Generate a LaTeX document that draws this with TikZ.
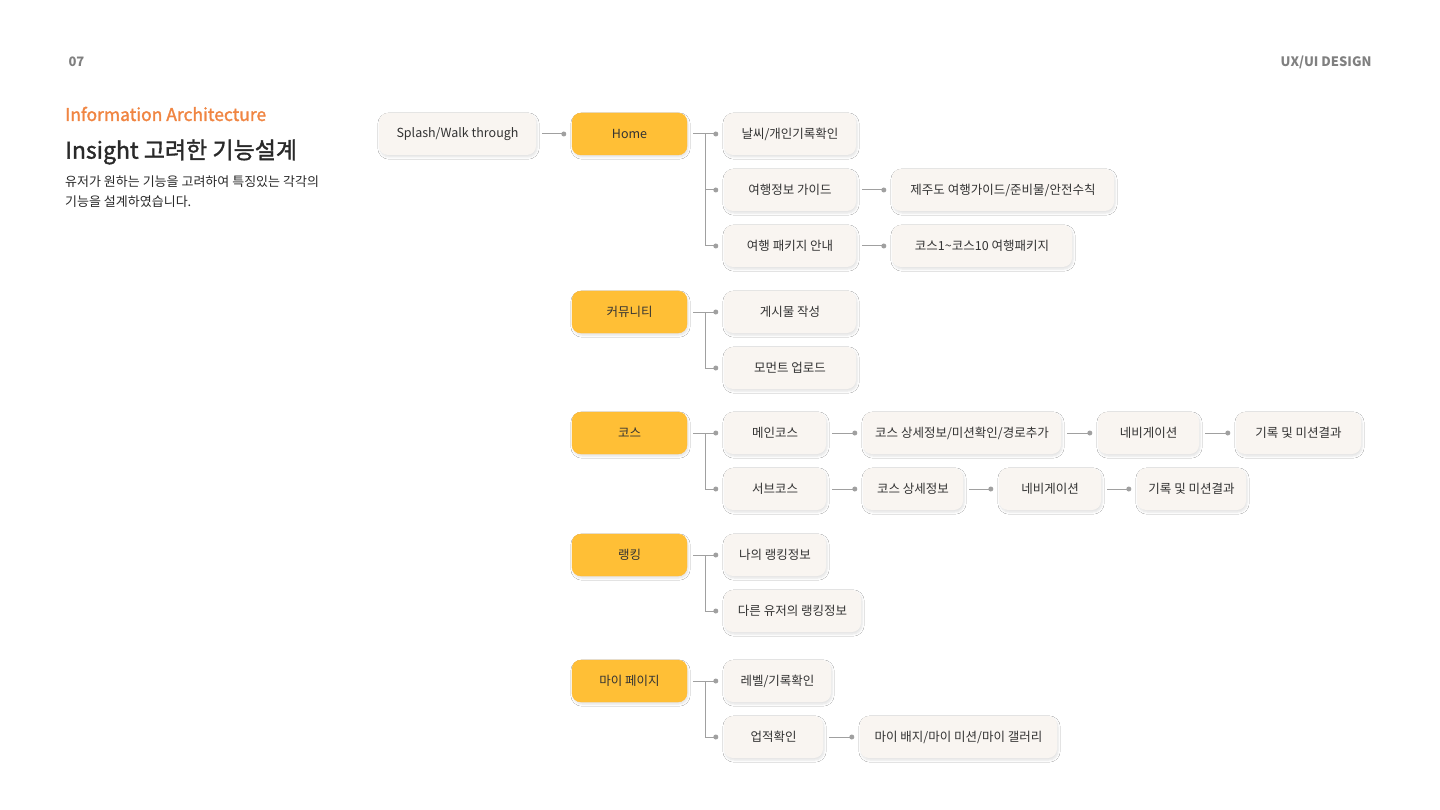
\documentclass[tikz,border=0pt]{standalone}
\usepackage{fontspec}
\setmainfont{Noto Sans CJK KR}
\newfontfamily\cjkb{Noto Sans CJK KR}[FakeBold=1.5]
\usetikzlibrary{shadows.blur}
\definecolor{yel}{HTML}{FFBF36}
\definecolor{cream}{HTML}{F9F5F1}
\definecolor{ln}{HTML}{A0A0A0}
\definecolor{tx}{HTML}{333333}
\definecolor{org}{HTML}{F08542}
\begin{document}
\begin{tikzpicture}[x=1pt,y=-1pt,
  base/.style={rounded corners=9pt,minimum height=42pt,inner sep=0pt,font=\fontsize{12.5}{14}\selectfont,text=tx,blur shadow={shadow blur steps=6,shadow xshift=1pt,shadow yshift=-2pt,shadow opacity=12}},
  cbox/.style={base,fill=cream},
  ybox/.style={base,fill=yel,draw=yel!90!orange,minimum width=115pt},
  con/.style={draw=ln,line width=1pt},
  dot/.style={circle,fill=ln,inner sep=0pt,minimum size=5pt}]
\fill[white] (0,0) rectangle (1440,810);
\node[anchor=west,text=gray,font=\fontsize{13}{15}\selectfont\bfseries] at (65,62) {07};
\node[anchor=east,text=gray,font=\fontsize{13}{15}\selectfont\bfseries] at (1375,62) {UX/UI DESIGN};
\node[anchor=west,text=org,inner sep=0pt,font=\fontsize{17.5}{20}\cjkb] at (65,114) {Information Architecture};
\node[anchor=west,text=tx!80!black,inner sep=0pt,font=\fontsize{23}{26}\cjkb] at (65,152) {Insight 고려한 기능설계};
\node[anchor=north west,text=tx!80!black,inner sep=0pt,align=left,font=\fontsize{13}{19.5}\selectfont] at (65,176) {유저가 원하는 기능을 고려하여 특징있는 각각의\\기능을 설계하였습니다.};

\node[cbox,minimum width=157pt] (sp) at (457.5,134) {Splash/Walk through};
\node[ybox] (home) at (629.5,134) {Home};
\node[ybox] (com) at (629.5,312) {커뮤니티};
\node[ybox] (course) at (629.5,433) {코스};
\node[ybox] (rank) at (629.5,555) {랭킹};
\node[ybox] (my) at (629.5,681) {마이 페이지};

\node[cbox,minimum width=132pt] (h1) at (790,134) {날씨/개인기록확인};
\node[cbox,minimum width=132pt] (h2) at (790,190) {여행정보 가이드};
\node[cbox,minimum width=132pt] (h3) at (790,246) {여행 패키지 안내};
\node[cbox,minimum width=222pt] (h2a) at (1003,190) {제주도 여행가이드/준비물/안전수칙};
\node[cbox,minimum width=180pt] (h3a) at (982,246) {코스1\textasciitilde 코스10 여행패키지};
\node[cbox,minimum width=132pt] (c1) at (790,312) {게시물 작성};
\node[cbox,minimum width=132pt] (c2) at (790,368) {모먼트 업로드};
\node[cbox,minimum width=102pt] (k1) at (775,433) {메인코스};
\node[cbox,minimum width=198pt] (k1a) at (962,433) {코스 상세정보/미션확인/경로추가};
\node[cbox,minimum width=101pt] (k1b) at (1148.5,433) {네비게이션};
\node[cbox,minimum width=125pt] (k1c) at (1298.5,433) {기록 및 미션결과};
\node[cbox,minimum width=102pt] (k2) at (775,489) {서브코스};
\node[cbox,minimum width=100pt] (k2a) at (913,489) {코스 상세정보};
\node[cbox,minimum width=102pt] (k2b) at (1050,489) {네비게이션};
\node[cbox,minimum width=109pt] (k2c) at (1191.5,489) {기록 및 미션결과};
\node[cbox,minimum width=102pt] (r1) at (775,555) {나의 랭킹정보};
\node[cbox,minimum width=137pt] (r2) at (792.5,611) {다른 유저의 랭킹정보};
\node[cbox,minimum width=107pt] (m1) at (777.5,681) {레벨/기록확인};
\node[cbox,minimum width=99pt] (m2) at (773.5,737) {업적확인};
\node[cbox,minimum width=197pt] (m2a) at (958.5,737) {마이 배지/마이 미션/마이 갤러리};

% sequential links
\foreach \a/\b in {sp/home,h2/h2a,h3/h3a,k1/k1a,k1a/k1b,k1b/k1c,k2/k2a,k2a/k2b,k2b/k2c,m2/m2a}{
  \draw[con] ([xshift=6pt]\a.east) -- ([xshift=-8pt]\b.west) node[dot]{};
}
% trees
\foreach \p/\kids/\last in {home/{h1,h2,h3}/h3,com/{c1,c2}/c2,course/{k1,k2}/k2,rank/{r1,r2}/r2,my/{m1,m2}/m2}{
  \draw[con] ([xshift=6pt]\p.east) -- ([xshift=18pt]\p.east) |- ([xshift=-8pt]\last.west);
  \foreach \k in \kids {
    \draw[con] ([xshift=18pt]\p.east |- \k.west) -- ([xshift=-8pt]\k.west) node[dot]{};
  }
}
\end{tikzpicture}
\end{document}
